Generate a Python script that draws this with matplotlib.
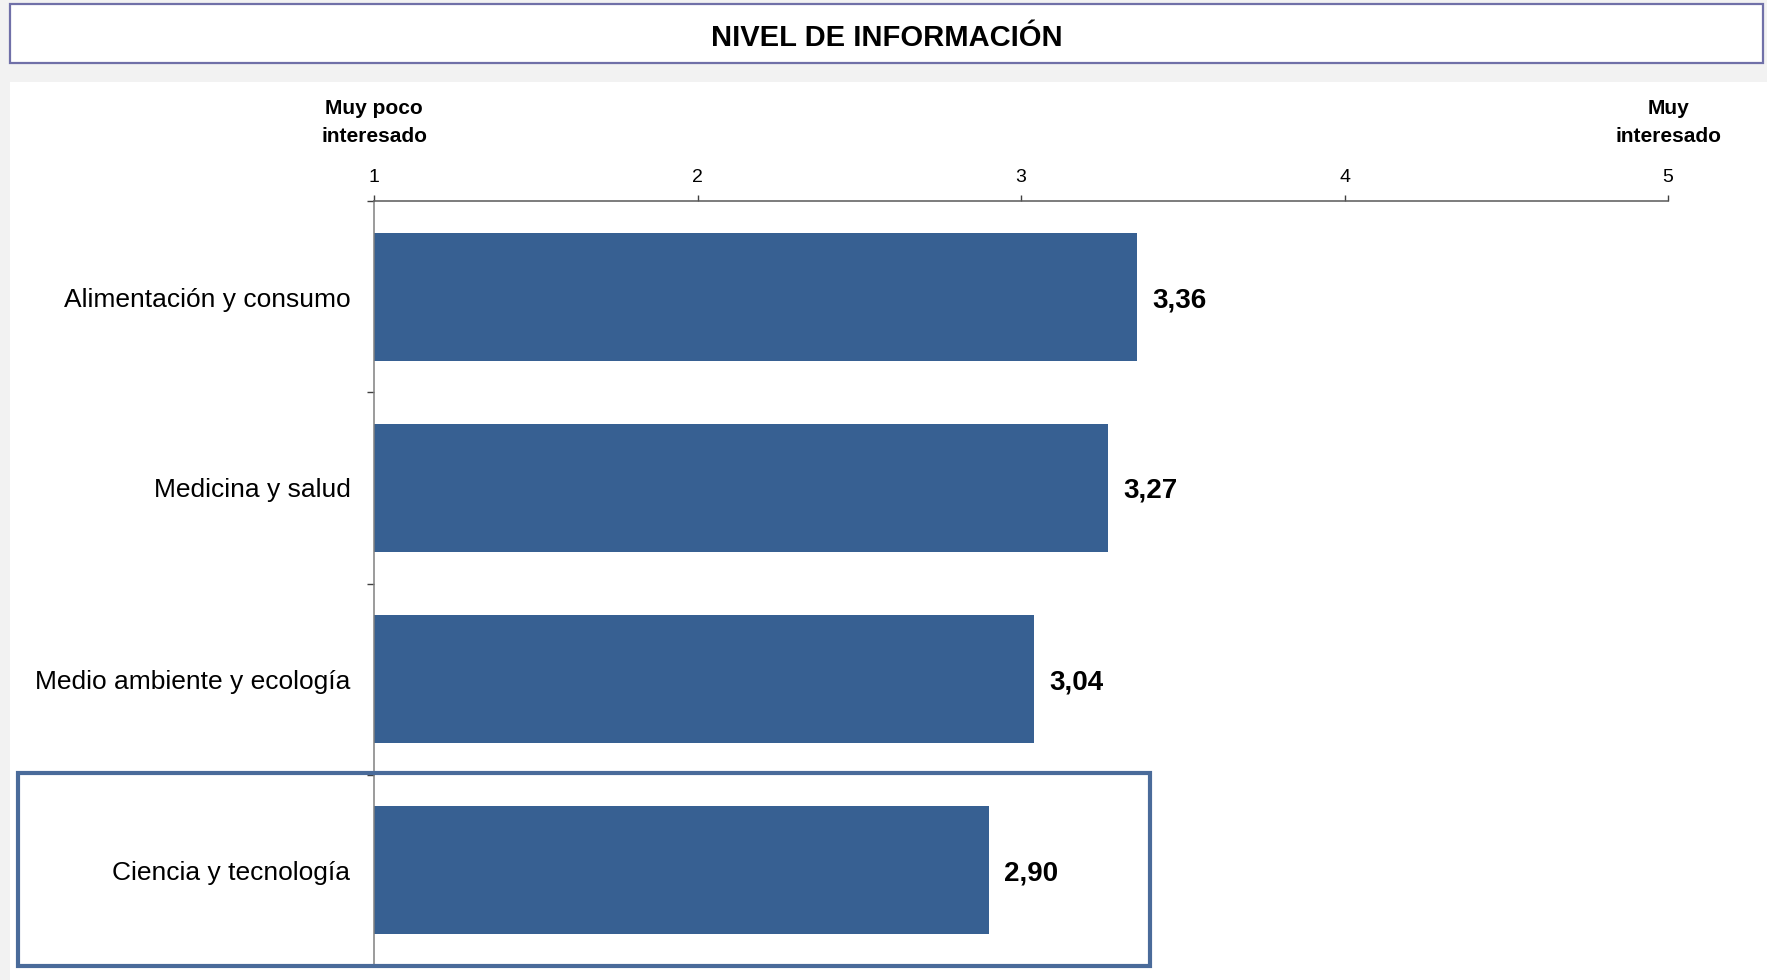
import matplotlib
matplotlib.use("Agg")
import matplotlib.pyplot as plt
from matplotlib.patches import Rectangle
from matplotlib.ticker import FixedLocator

plt.rcParams['font.family'] = ['Liberation Sans', 'DejaVu Sans']

categories = ["Alimentación y consumo", "Medicina y salud",
              "Medio ambiente y ecología", "Ciencia y tecnología"]
values = [3.36, 3.27, 3.04, 2.90]
x_ticks = [1, 2, 3, 4, 5]
scale_low = "Muy poco\ninteresado"
scale_high = "Muy\ninteresado"
title = "NIVEL DE INFORMACIÓN"

W, H = 1767, 980
BAR_COLOR = "#376092"


def px(x, y):
    """Pixel coords (top-left origin) -> figure fraction."""
    return x / W, 1 - y / H


fig = plt.figure(figsize=(W / 100, H / 100), dpi=100, facecolor="#f2f2f2")

# --- background panels ---
x0, y0 = px(10, 82)
fig.add_artist(Rectangle((x0, 0), 1 - x0, y0, transform=fig.transFigure,
                         facecolor="white", edgecolor="none", zorder=0))
bx0, by1 = px(10, 4)
bx1, by0 = px(1763, 63)
fig.add_artist(Rectangle((bx0, by0), bx1 - bx0, by1 - by0,
                         transform=fig.transFigure, facecolor="white",
                         edgecolor="#7070a8", linewidth=1.6, zorder=1))
tx, ty = px(886.5, 35)
fig.text(tx, ty, title, ha="center", va="center_baseline",
         fontsize=21, fontweight="bold")

# --- chart axes ---
left, top = px(374, 201.5)
right, bottom = px(1668, 965.5)
ax = fig.add_axes([left, bottom, right - left, top - bottom])
ax.patch.set_alpha(0)

ypos = list(range(len(categories)))
ax.barh(ypos, values, height=0.665, color=BAR_COLOR, zorder=2)
ax.set_xlim(1, 5)
ax.set_ylim(len(categories) - 0.5, -0.5)

for y, v in zip(ypos, values):
    ax.annotate(f"{v:.2f}".replace(".", ","), xy=(v, y), xytext=(15, 0),
                textcoords="offset pixels", ha="left", va="center_baseline",
                fontsize=20, fontweight="bold")

ax.xaxis.tick_top()
ax.set_xticks(x_ticks)
ax.set_xticklabels([str(t) for t in x_ticks])
ax.tick_params(axis="x", which="major", direction="out", length=4,
               width=1, color="#404040", pad=7, labelsize=14)

ax.set_yticks(ypos)
ax.set_yticklabels(categories)
ax.tick_params(axis="y", which="major", length=0, pad=17, labelsize=19)
ax.yaxis.set_minor_locator(FixedLocator([i - 0.5 for i in range(len(categories) + 1)]))
ax.tick_params(axis="y", which="minor", direction="out", length=5,
               width=1, color="#404040")

for side in ["right", "bottom"]:
    ax.spines[side].set_visible(False)
ax.spines["top"].set_color("#595959")
ax.spines["left"].set_color("#808080")
ax.spines["top"].set_linewidth(1.1)
ax.spines["left"].set_linewidth(1.1)

for x, label in [(1, scale_low), (5, scale_high)]:
    ax.annotate(label, xy=(x, px(0, 122)[1]), xycoords=("data", "figure fraction"),
                ha="center", va="center", fontsize=15, fontweight="bold",
                linespacing=1.6)

# --- highlight box around last category ---
hx0, hy1 = px(18, 773)
hx1, hy0 = px(1150, 966)
fig.add_artist(Rectangle((hx0, hy0), hx1 - hx0, hy1 - hy0,
                         transform=fig.transFigure, facecolor="none",
                         edgecolor="#4a6b9a", linewidth=3, zorder=3))

fig.savefig("out.png", dpi=100, facecolor=fig.get_facecolor())
